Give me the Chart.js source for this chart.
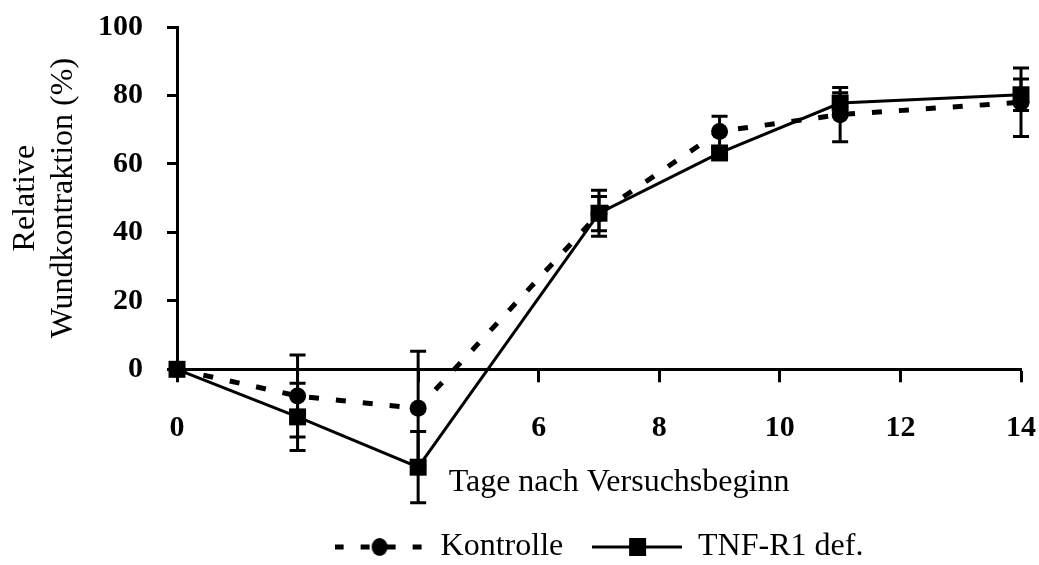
<!DOCTYPE html>
<html>
<head>
<meta charset="utf-8">
<script src="https://cdn.jsdelivr.net/npm/chart.js@4.4.1/dist/chart.umd.min.js"></script>
<style>
html, body { margin: 0; padding: 0; background: #fff; }
#wrap { width: 1039px; height: 565px; }
</style>
</head>
<body>
<div id="wrap"><canvas id="woundChart"></canvas></div>
<script>
// Werte
const days = [0, 2, 4, 7, 9, 11, 14];
const kontrolle = [0, -7.8, -11.4, 45.5, 69.5, 74.4, 78];
const kontrolleErr = [0, 12, 16.7, 5, 4.4, 7.9, 10];
const tnfR1 = [0, -13.9, -28.6, 45.6, 63.2, 77.8, 80.2];
const tnfR1Err = [0, 9.8, 10.4, 6.7, 1.4, 3, 4.6];
const xTickLabels = [0, 6, 8, 10, 12, 14];
const seriesNames = ['Kontrolle', 'TNF-R1 def.'];

const serif = "'Times New Roman', 'Liberation Serif', serif";
Chart.defaults.font.family = serif;
Chart.defaults.color = '#000';

// legend symbol: line + marker like the Excel legend
function legendIcon(dashed) {
    const c = document.createElement('canvas');
    c.width = 90;
    c.height = 24;
    const g = c.getContext('2d');
    g.strokeStyle = '#000';
    g.fillStyle = '#000';
    g.lineWidth = dashed ? 5 : 3;
    if (dashed) g.setLineDash([9, 17]);
    g.beginPath();
    g.moveTo(0, 12);
    g.lineTo(90, 12);
    g.stroke();
    g.setLineDash([]);
    if (dashed) {
        g.beginPath();
        g.ellipse(45, 12, 8, 9, 0, 0, Math.PI * 2);
        g.fill();
    } else {
        g.fillRect(37, 3, 17, 18);
    }
    return c;
}
const legendIcons = [legendIcon(true), legendIcon(false)];

// Fehlerbalken + points below 0 (outside the 0..100 axis) still drawn
const errorBars = {
    id: 'errorBars',
    beforeDatasetsDraw(chart) {
        const { ctx, scales: { x, y } } = chart;
        const sets = [[kontrolle, kontrolleErr], [tnfR1, tnfR1Err]];
        ctx.save();
        ctx.strokeStyle = '#000';
        ctx.lineWidth = 3;
        sets.forEach(([vals, errs]) => {
            days.forEach((d, i) => {
                if (!errs[i]) return;
                const px = x.getPixelForValue(d);
                const top = y.getPixelForValue(vals[i] + errs[i]);
                const bot = y.getPixelForValue(vals[i] - errs[i]);
                ctx.beginPath();
                ctx.moveTo(px, top); ctx.lineTo(px, bot);
                ctx.moveTo(px - 8, top); ctx.lineTo(px + 8, top);
                ctx.moveTo(px - 8, bot); ctx.lineTo(px + 8, bot);
                ctx.stroke();
            });
        });
        ctx.restore();
        chart._areaBottom = chart.chartArea.bottom;
        chart.chartArea.bottom = chart.height;
    },
    afterDatasetsDraw(chart) {
        chart.chartArea.bottom = chart._areaBottom;
    }
};

const ctx = document.getElementById('woundChart').getContext('2d');
const woundChart = new Chart(ctx, {
    type: 'scatter',
    data: {
        datasets: [{
            label: seriesNames[0],
            data: days.map((d, i) => ({ x: d, y: kontrolle[i] })),
            showLine: true,
            borderColor: '#000',
            borderWidth: 5,
            borderDash: [10, 17],
            pointStyle: 'circle',
            pointRadius: 8.5,
            pointBackgroundColor: '#000',
            pointBorderWidth: 0,
            clip: false,
            order: 1,
        }, {
            label: seriesNames[1],
            data: days.map((d, i) => ({ x: d, y: tnfR1[i] })),
            showLine: true,
            borderColor: '#000',
            borderWidth: 3,
            pointStyle: 'rect',
            pointRadius: 12,
            pointBackgroundColor: '#000',
            pointBorderWidth: 0,
            clip: false,
            order: 0,
        }]
    },
    options: {
        responsive: true,
        maintainAspectRatio: false,
        animation: false,
        layout: { autoPadding: false, padding: { top: 27, right: 18, bottom: -8, left: 0 } },
        scales: {
            x: {
                type: 'linear',
                min: 0,
                max: 14,
                border: { display: true, color: '#000', width: 3 },
                grid: { drawOnChartArea: false, drawTicks: true, tickLength: 13, tickWidth: 3, tickColor: '#000' },
                ticks: {
                    stepSize: 2,
                    padding: 28,
                    font: { size: 30, weight: 'bold' },
                    callback: (v) => xTickLabels.includes(v) ? String(v) : '',
                },
                title: {
                    display: true,
                    // leading spaces: title sits a bit right of the plot centre in the original
                    text: '     Tage nach Versuchsbeginn',
                    font: { size: 32 },
                    padding: { top: -10.5, bottom: 0 },
                },
                afterFit(scale) { scale.paddingLeft = 0; scale.paddingRight = 0; },
            },
            y: {
                min: 0,
                max: 100,
                border: { display: true, color: '#000', width: 3 },
                grid: { drawOnChartArea: false, drawTicks: true, tickLength: 10, tickWidth: 3, tickColor: '#000' },
                ticks: {
                    stepSize: 20,
                    padding: 24,
                    font: { size: 30, weight: 'bold' },
                },
                title: {
                    display: true,
                    text: ['Relative', 'Wundkontraktion (%)'],
                    font: { size: 32 },
                    padding: { top: 6, bottom: 0 },
                },
                afterFit(scale) {
                    scale.width = 177;
                    scale.paddingTop = 0;
                    scale.paddingBottom = 0;
                },
            },
        },
        plugins: {
            legend: {
                position: 'bottom',
                fullSize: false,
                labels: {
                    usePointStyle: true,
                    pointStyleWidth: 90,
                    padding: 28.8,
                    font: { size: 32 },
                    color: '#000',
                    generateLabels(chart) {
                        const items = Chart.defaults.plugins.legend.labels.generateLabels(chart);
                        items.forEach(it => { it.pointStyle = legendIcons[it.datasetIndex]; });
                        return items;
                    },
                    sort: (a, b) => a.datasetIndex - b.datasetIndex,
                },
            },
            tooltip: { enabled: false },
        },
    },
    plugins: [errorBars],
});
</script>
</body>
</html>
